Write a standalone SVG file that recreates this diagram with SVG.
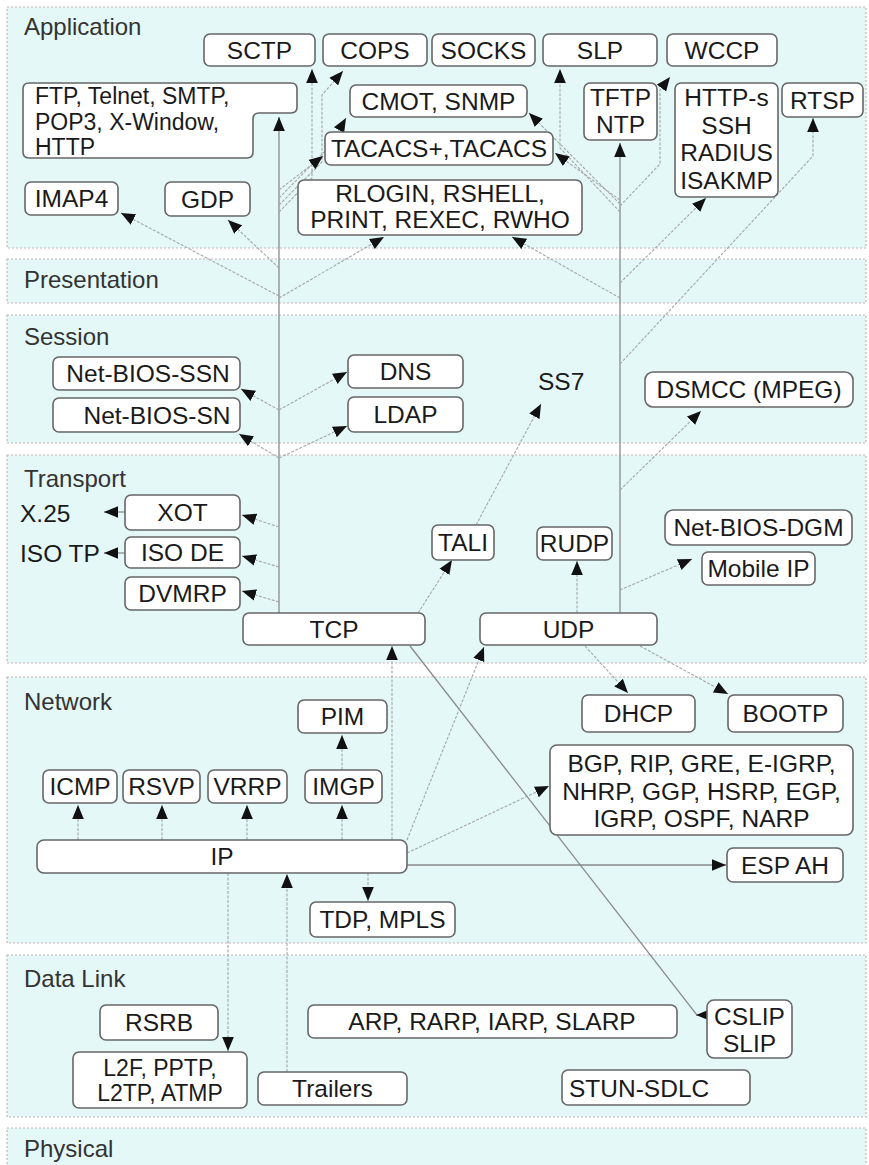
<svg xmlns="http://www.w3.org/2000/svg" width="869" height="1165" viewBox="0 0 869 1165">
<style>
.band{fill:#e4f8f8;stroke:#c8b4b4;stroke-width:1.2;stroke-dasharray:2 2}
.node rect,.node path{fill:#fff;stroke:#666;stroke-width:1.6}
text{font-family:"Liberation Sans",Arial,sans-serif;font-size:24.5px;fill:#1a1a1a}
.ct{text-anchor:middle}
.sm{font-size:23px}
.lbl{font-size:24px;fill:#333}
.c{fill:none;stroke:#a6a6a6;stroke-width:1.1;stroke-dasharray:3 1.5;marker-end:url(#ah)}
.tr{fill:none;stroke:#8a8a8a;stroke-width:1.3;marker-end:url(#ah)}
</style>
<defs>
<marker id="ah" viewBox="0 0 12 10" refX="12" refY="5" markerWidth="14" markerHeight="12" markerUnits="userSpaceOnUse" orient="auto">
<path d="M0,0 L12,5 L0,10 z" fill="#111"/>
</marker>
</defs>
<rect width="869" height="1165" fill="#fff"/>
<g id="layers">
<rect class="band" x="7" y="7" width="859" height="241"/>
<rect class="band" x="7" y="259" width="859" height="44"/>
<rect class="band" x="7" y="315" width="859" height="128"/>
<rect class="band" x="7" y="455" width="859" height="208"/>
<rect class="band" x="7" y="677" width="859" height="266"/>
<rect class="band" x="7" y="955" width="859" height="162"/>
<rect class="band" x="7" y="1128" width="859" height="45"/>
<text class="lbl" x="24" y="35">Application</text>
<text class="lbl" x="24" y="288">Presentation</text>
<text class="lbl" x="24" y="345">Session</text>
<text class="lbl" x="24" y="487">Transport</text>
<text class="lbl" x="24" y="710">Network</text>
<text class="lbl" x="24" y="987">Data Link</text>
<text class="lbl" x="24" y="1157">Physical</text>
</g>
<g id="connectors">
<path class="tr" d="M279,613 V117"/>
<path class="tr" d="M620,613 V143"/>
<path class="c" d="M279,212 L312,178 V69"/>
<path class="c" d="M279,205 L322,162 V95 L343,71"/>
<path class="c" d="M279,198 L330,146 L346,118"/>
<path class="c" d="M279,190 L323,156"/>
<path class="c" d="M279,296 L121,213"/>
<path class="c" d="M279,268 L228,220"/>
<path class="c" d="M279,298 L384,237"/>
<path class="c" d="M620,298 L512,237"/>
<path class="c" d="M620,212 L560,148 V69"/>
<path class="c" d="M620,206 L660,164 V90 L670,77"/>
<path class="c" d="M620,204 L529,113"/>
<path class="c" d="M620,200 L555,153"/>
<path class="c" d="M620,283 L706,198"/>
<path class="c" d="M620,364 L813,156 V118"/>
<path class="c" d="M279,410 L241,389"/>
<path class="c" d="M279,410 L347,372"/>
<path class="c" d="M279,458 L239,434"/>
<path class="c" d="M279,458 L347,426"/>
<path class="c" d="M279,527 L242,515"/>
<path class="c" d="M279,567 L242,556"/>
<path class="c" d="M279,602 L242,591"/>
<path class="tr" d="M125,512 H104"/>
<path class="tr" d="M125,553 H104"/>
<path class="c" d="M418,613 L452,560"/>
<path class="c" d="M476,525 L541,404"/>
<path class="c" d="M620,490 L701,411"/>
<path class="c" d="M620,590 L692,559"/>
<path class="c" d="M577,613 V561"/>
<path class="tr" d="M410,646 L697,1015 L696,1015"/>
<path class="c" d="M585,646 L628,693"/>
<path class="c" d="M640,646 L728,694"/>
<path class="c" d="M407,840 L484,647"/>
<path class="c" d="M392,840 V646"/>
<path class="c" d="M78,840 V805"/>
<path class="c" d="M162,840 V805"/>
<path class="c" d="M247,840 V805"/>
<path class="c" d="M342,840 V805"/>
<path class="c" d="M342,770 V735"/>
<path class="c" d="M407,853 L549,786"/>
<path class="tr" d="M407,865 H726"/>
<path class="c" d="M368,873 V901"/>
<path class="c" d="M228,873 V1051"/>
<path class="c" d="M287,1072 V874"/>
</g>
<g id="n-sctp" class="node"><rect x="204" y="34" width="111" height="32" rx="6"/><text class="ct" x="259.5" y="59">SCTP</text></g>
<g id="n-cops" class="node"><rect x="323" y="34" width="104" height="32" rx="6"/><text class="ct" x="375" y="59">COPS</text></g>
<g id="n-socks" class="node"><rect x="432" y="34" width="103" height="32" rx="6"/><text class="ct" x="483.5" y="59">SOCKS</text></g>
<g id="n-slp" class="node"><rect x="543" y="34" width="114" height="32" rx="6"/><text class="ct" x="600" y="59">SLP</text></g>
<g id="n-wccp" class="node"><rect x="667" y="34" width="110" height="32" rx="6"/><text class="ct" x="722" y="59">WCCP</text></g>
<g id="n-ftp" class="node"><path d="M29,83 H291 Q297,83 297,89 V107 Q297,113 291,113 H259 Q253,113 253,119 V152 Q253,158 247,158 H29 Q23,158 23,152 V89 Q23,83 29,83 Z"/><text class="sm" x="35" y="104">FTP, Telnet, SMTP,</text><text class="sm" x="35" y="130">POP3, X-Window,</text><text class="sm" x="35" y="155">HTTP</text></g>
<g id="n-cmot" class="node"><rect x="350" y="85" width="177" height="32" rx="6"/><text class="ct" x="438.5" y="110">CMOT, SNMP</text></g>
<g id="n-tacacs" class="node"><rect x="325" y="132" width="228" height="33" rx="6"/><text class="ct" x="439" y="157">TACACS+,TACACS</text></g>
<g id="n-rlogin" class="node"><rect x="298" y="180" width="284" height="55" rx="6"/><text class="ct" x="440" y="202">RLOGIN, RSHELL,</text><text class="ct" x="440" y="228">PRINT, REXEC, RWHO</text></g>
<g id="n-tftp" class="node"><rect x="584" y="83" width="73" height="57" rx="6"/><text class="ct" x="620.5" y="106">TFTP</text><text class="ct" x="620.5" y="133">NTP</text></g>
<g id="n-https" class="node"><rect x="675" y="83" width="103" height="114" rx="6"/><text class="ct" x="726.5" y="106">HTTP-s</text><text class="ct" x="726.5" y="134">SSH</text><text class="ct" x="726.5" y="161">RADIUS</text><text class="ct" x="726.5" y="189">ISAKMP</text></g>
<g id="n-rtsp" class="node"><rect x="782" y="83" width="81" height="34" rx="6"/><text class="ct" x="822.5" y="109">RTSP</text></g>
<g id="n-imap4" class="node"><rect x="25" y="182" width="93" height="33" rx="6"/><text class="ct" x="71.5" y="207">IMAP4</text></g>
<g id="n-gdp" class="node"><rect x="165" y="182" width="85" height="34" rx="6"/><text class="ct" x="207.5" y="208">GDP</text></g>
<g id="n-netbios-ssn" class="node"><rect x="53" y="357" width="187" height="33" rx="6"/><text class="ct" x="148" y="382">Net-BIOS-SSN</text></g>
<g id="n-netbios-sn" class="node"><rect x="53" y="398" width="187" height="34" rx="6"/><text class="ct" x="157" y="424">Net-BIOS-SN</text></g>
<g id="n-dns" class="node"><rect x="348" y="355" width="115" height="33" rx="6"/><text class="ct" x="405.5" y="380">DNS</text></g>
<g id="n-ldap" class="node"><rect x="348" y="397" width="115" height="35" rx="6"/><text class="ct" x="405.5" y="423">LDAP</text></g>
<g id="n-ss7"><text x="538" y="390">SS7</text></g>
<g id="n-dsmcc" class="node"><rect x="645" y="372" width="208" height="35" rx="8"/><text class="ct" x="749" y="398">DSMCC (MPEG)</text></g>
<g id="n-x25"><text x="20" y="522">X.25</text></g>
<g id="n-isotp"><text x="20" y="562">ISO TP</text></g>
<g id="n-xot" class="node"><rect x="125" y="495" width="115" height="35" rx="6"/><text class="ct" x="182.5" y="521">XOT</text></g>
<g id="n-isode" class="node"><rect x="125" y="537" width="115" height="31" rx="6"/><text class="ct" x="182.5" y="561">ISO DE</text></g>
<g id="n-dvmrp" class="node"><rect x="125" y="577" width="115" height="33" rx="6"/><text class="ct" x="182.5" y="602">DVMRP</text></g>
<g id="n-tcp" class="node"><rect x="243" y="613" width="182" height="32" rx="6"/><text class="ct" x="334" y="638">TCP</text></g>
<g id="n-tali" class="node"><rect x="432" y="525" width="62" height="35" rx="6"/><text class="ct" x="463" y="551">TALI</text></g>
<g id="n-rudp" class="node"><rect x="537" y="527" width="75" height="33" rx="6"/><text class="ct" x="574.5" y="552">RUDP</text></g>
<g id="n-netbios-dgm" class="node"><rect x="665" y="510" width="187" height="35" rx="8"/><text class="ct" x="758.5" y="536">Net-BIOS-DGM</text></g>
<g id="n-mobileip" class="node"><rect x="702" y="552" width="113" height="33" rx="6"/><text class="ct" x="758.5" y="577">Mobile IP</text></g>
<g id="n-udp" class="node"><rect x="480" y="613" width="177" height="32" rx="6"/><text class="ct" x="568.5" y="638">UDP</text></g>
<g id="n-pim" class="node"><rect x="298" y="700" width="89" height="33" rx="6"/><text class="ct" x="342.5" y="725">PIM</text></g>
<g id="n-icmp" class="node"><rect x="43" y="770" width="74" height="33" rx="6"/><text class="ct" x="80" y="795">ICMP</text></g>
<g id="n-rsvp" class="node"><rect x="123" y="770" width="77" height="33" rx="6"/><text class="ct" x="161.5" y="795">RSVP</text></g>
<g id="n-vrrp" class="node"><rect x="208" y="770" width="79" height="33" rx="6"/><text class="ct" x="247.5" y="795">VRRP</text></g>
<g id="n-imgp" class="node"><rect x="305" y="770" width="77" height="33" rx="6"/><text class="ct" x="343.5" y="795">IMGP</text></g>
<g id="n-ip" class="node"><rect x="37" y="840" width="370" height="33" rx="7"/><text class="ct" x="222" y="865">IP</text></g>
<g id="n-tdp" class="node"><rect x="310" y="902" width="145" height="35" rx="6"/><text class="ct" x="382.5" y="928">TDP, MPLS</text></g>
<g id="n-dhcp" class="node"><rect x="582" y="695" width="113" height="37" rx="6"/><text class="ct" x="638.5" y="722">DHCP</text></g>
<g id="n-bootp" class="node"><rect x="728" y="695" width="115" height="37" rx="6"/><text class="ct" x="785.5" y="722">BOOTP</text></g>
<g id="n-bgp" class="node"><rect x="550" y="745" width="303" height="90" rx="7"/><text class="ct" x="701.5" y="772">BGP, RIP, GRE, E-IGRP,</text><text class="ct" x="701.5" y="800">NHRP, GGP, HSRP, EGP,</text><text class="ct" x="701.5" y="827">IGRP, OSPF, NARP</text></g>
<g id="n-espah" class="node"><rect x="727" y="848" width="116" height="34" rx="6"/><text class="ct" x="785" y="874">ESP AH</text></g>
<g id="n-rsrb" class="node"><rect x="100" y="1005" width="118" height="35" rx="6"/><text class="ct" x="159" y="1031">RSRB</text></g>
<g id="n-l2f" class="node"><rect x="73" y="1052" width="174" height="56" rx="6"/><text class="ct sm" x="160" y="1076">L2F, PPTP,</text><text class="ct sm" x="160" y="1101">L2TP, ATMP</text></g>
<g id="n-trailers" class="node"><rect x="258" y="1072" width="149" height="33" rx="6"/><text class="ct" x="332.5" y="1097">Trailers</text></g>
<g id="n-arp" class="node"><rect x="308" y="1005" width="369" height="33" rx="6"/><text class="ct" x="492" y="1030">ARP, RARP, IARP, SLARP</text></g>
<g id="n-cslip" class="node"><rect x="707" y="1000" width="85" height="58" rx="7"/><text class="ct" x="749.5" y="1025">CSLIP</text><text class="ct" x="749.5" y="1052">SLIP</text></g>
<g id="n-stun" class="node"><rect x="562" y="1070" width="188" height="35" rx="6"/><text x="569" y="1097">STUN-SDLC</text></g>
</svg>
